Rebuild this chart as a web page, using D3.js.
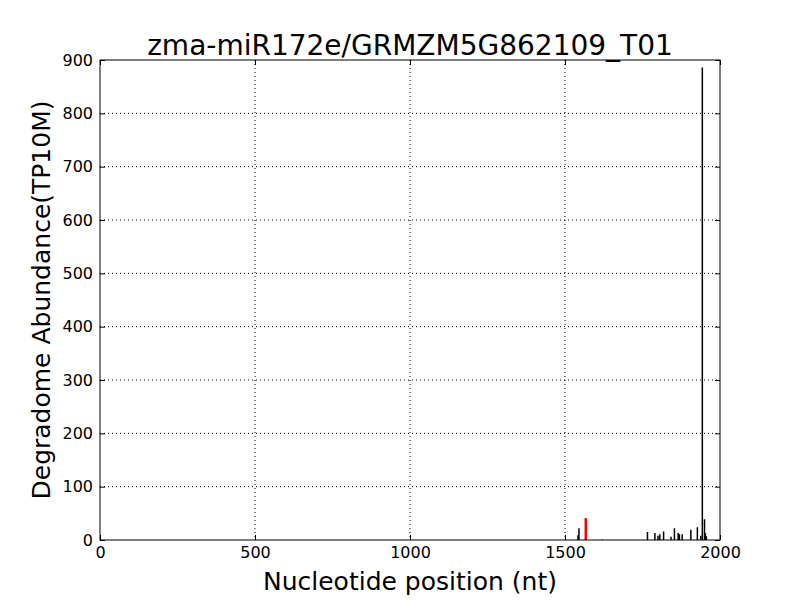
<!DOCTYPE html>
<meta charset="utf-8">
<title>zma-miR172e/GRMZM5G862109_T01</title>
<style>
    body {
        margin: 0;
        background: #fff;
        font-family: "DejaVu Sans", sans-serif;
    }
    .grid line {
        stroke: #000;
        stroke-dasharray: 1,3;
        stroke-width: 1;
    }
</style>
<body>
<div id="chart"></div>
<script src="https://cdn.jsdelivr.net/npm/d3@7"></script>
<script>
    // degradome reads along the transcript (position in nt, abundance in TP10M)
    var positions = [1542, 1545, 1620, 1766, 1790, 1800, 1806, 1818, 1842, 1853, 1865, 1869, 1878, 1906, 1927, 1938, 1943, 1950, 1953, 1956];
    var abundance = [9, 22, 1, 15, 13, 8, 11, 16, 6, 22, 13, 11, 11, 19, 24, 8, 886, 39, 13, 7];
    // the cleavage site shown in red
    var sitePos = [1567];
    var siteVal = [41];

    var xTicks = [0, 500, 1000, 1500, 2000];
    var yTicks = [0, 100, 200, 300, 400, 500, 600, 700, 800, 900];

    var margin = {top: 60, right: 80, bottom: 60, left: 100},
        width = 800 - margin.left - margin.right,
        height = 600 - margin.top - margin.bottom;

    var svg = d3.select("#chart")
        .append("svg")
        .attr("width", 800)
        .attr("height", 600);

    var g = svg.append("g")
        .attr("transform", "translate(" + margin.left + "," + margin.top + ")");

    var x = d3.scaleLinear().domain([0, 2000]).range([0, width]);
    var y = d3.scaleLinear().domain([0, 900]).range([height, 0]);

    // dotted grid
    g.append("g").attr("class", "grid")
        .selectAll("line").data(xTicks.slice(1, -1)).enter().append("line")
        .attr("x1", d => x(d)).attr("x2", d => x(d))
        .attr("y1", 0).attr("y2", height);
    g.append("g").attr("class", "grid")
        .selectAll("line").data(yTicks.slice(1, -1)).enter().append("line")
        .attr("x1", 0).attr("x2", width)
        .attr("y1", d => y(d)).attr("y2", d => y(d));

    // bars
    var reads = positions.map(function(p, i) { return {pos: p, val: abundance[i]}; });
    g.selectAll(".read").data(reads).enter().append("line")
        .attr("class", "read")
        .attr("x1", d => x(d.pos)).attr("x2", d => x(d.pos))
        .attr("y1", y(0)).attr("y2", d => y(d.val))
        .attr("stroke", "#000")
        .attr("stroke-width", 1.5);

    var sites = sitePos.map(function(p, i) { return {pos: p, val: siteVal[i]}; });
    g.selectAll(".site").data(sites).enter().append("line")
        .attr("class", "site")
        .attr("x1", d => x(d.pos)).attr("x2", d => x(d.pos))
        .attr("y1", y(0)).attr("y2", d => y(d.val))
        .attr("stroke", "#ff0000")
        .attr("stroke-width", 2.5);

    // axes, ticks pointing inward on all four sides
    function styleAxis(sel) {
        sel.select(".domain").remove();
        sel.selectAll("text")
            .attr("fill", "#000")
            .style("font-family", "DejaVu Sans, sans-serif")
            .style("font-size", "16px");
        sel.selectAll(".tick line").attr("stroke", "#000");
    }

    var fmt = d3.format("d");

    g.append("g")
        .attr("transform", "translate(0," + height + ")")
        .call(d3.axisBottom(x).tickValues(xTicks).tickFormat(fmt).tickSizeInner(-5).tickPadding(7))
        .call(styleAxis);
    g.append("g")
        .call(d3.axisTop(x).tickValues(xTicks).tickSizeInner(-5).tickFormat(""))
        .call(styleAxis);
    g.append("g")
        .call(d3.axisLeft(y).tickValues(yTicks).tickFormat(fmt).tickSizeInner(-5).tickPadding(7))
        .call(styleAxis);
    g.append("g")
        .attr("transform", "translate(" + width + ",0)")
        .call(d3.axisRight(y).tickValues(yTicks).tickSizeInner(-5).tickFormat(""))
        .call(styleAxis);

    // frame
    g.append("rect")
        .attr("width", width).attr("height", height)
        .attr("fill", "none").attr("stroke", "#000").attr("stroke-width", 1);

    // title and axis labels
    svg.append("text")
        .attr("x", margin.left + width / 2).attr("y", 55)
        .attr("text-anchor", "middle")
        .style("font-size", "28px")
        .text("zma-miR172e/GRMZM5G862109_T01");

    svg.append("text")
        .attr("x", margin.left + width / 2).attr("y", 590)
        .attr("text-anchor", "middle")
        .style("font-size", "25px")
        .text("Nucleotide position (nt)");

    svg.append("text")
        .attr("transform", "translate(50," + (margin.top + height / 2) + ") rotate(-90)")
        .attr("text-anchor", "middle")
        .style("font-size", "25px")
        .text("Degradome Abundance(TP10M)");
</script>
</body>
